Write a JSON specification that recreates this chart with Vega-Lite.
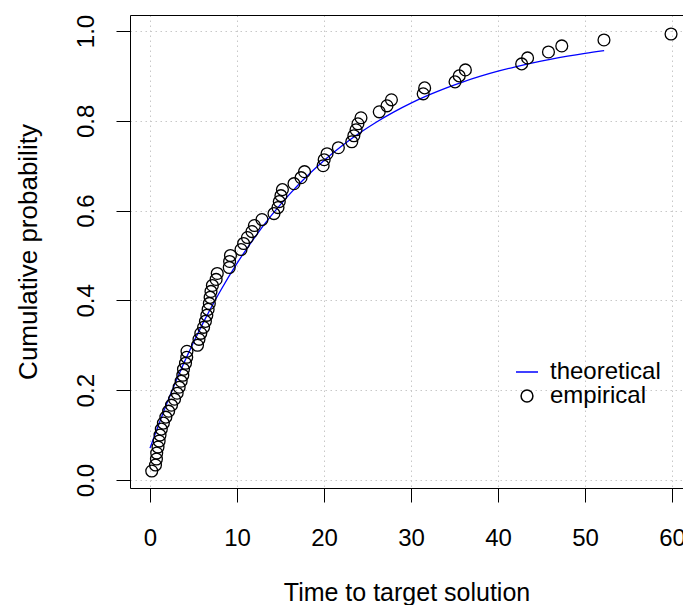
{
  "$schema": "https://vega.github.io/schema/vega-lite/v6.json",
  "width": 553,
  "height": 473,
  "autosize": "none",
  "padding": {"left": 130, "top": 15, "right": 0, "bottom": 117},
  "background": "white",
  "config": {"view": {"stroke": null}, "font": "Liberation Sans"},
  "resolve": {"axis": {"x": "independent"}},
  "layer": [
    {
      "data": {"values": [
        {"t": 0, "p": 0.0710}, {"t": 2, "p": 0.1736}, {"t": 4, "p": 0.2648}, {"t": 6, "p": 0.3460},
        {"t": 8, "p": 0.4182}, {"t": 10, "p": 0.4824}, {"t": 12, "p": 0.5395}, {"t": 14, "p": 0.5903},
        {"t": 16, "p": 0.6356}, {"t": 18, "p": 0.6758}, {"t": 20, "p": 0.7116}, {"t": 22, "p": 0.7434},
        {"t": 24, "p": 0.7717}, {"t": 26, "p": 0.7969}, {"t": 28, "p": 0.8193}, {"t": 30, "p": 0.8393},
        {"t": 32, "p": 0.8570}, {"t": 34, "p": 0.8728}, {"t": 36, "p": 0.8868}, {"t": 38, "p": 0.8993},
        {"t": 40, "p": 0.9104}, {"t": 42, "p": 0.9203}, {"t": 44, "p": 0.9291}, {"t": 46, "p": 0.9369},
        {"t": 48, "p": 0.9439}, {"t": 50, "p": 0.9501}, {"t": 52.2, "p": 0.9561}
      ]},
      "mark": {"type": "line", "color": "#0000FF", "strokeWidth": 1.3, "interpolate": "monotone", "clip": true},
      "encoding": {
        "x": {
          "field": "t", "type": "quantitative",
          "scale": {"domain": [-2.299, 61.264], "nice": false, "zero": false},
          "axis": {
            "orient": "bottom", "values": [0, 10, 20, 30, 40, 50, 60], "format": "d",
            "grid": true, "gridColor": "#c8c8c8", "gridDash": [1.5, 3.5], "gridWidth": 1,
            "domain": true, "domainColor": "#000000", "domainWidth": 1,
            "ticks": true, "tickColor": "#000000", "tickSize": 14, "tickWidth": 1,
            "labelFontSize": 24, "labelColor": "#000000", "labelFont": "Liberation Sans",
            "labelPadding": 24, "labelBaseline": "top", "labelFlush": false, "labelOverlap": false,
            "title": "Time to target solution", "titleFontSize": 25, "titleFontWeight": "normal",
            "titleColor": "#000000", "titleFont": "Liberation Sans", "titlePadding": 30
          }
        },
        "y": {
          "field": "p", "type": "quantitative",
          "scale": {"domain": [-0.0178, 1.0356], "nice": false, "zero": false},
          "axis": {
            "orient": "left", "values": [0, 0.2, 0.4, 0.6, 0.8, 1.0], "format": ".1f",
            "grid": true, "gridColor": "#c8c8c8", "gridDash": [1.5, 3.5], "gridWidth": 1,
            "domain": true, "domainColor": "#000000", "domainWidth": 1,
            "ticks": true, "tickColor": "#000000", "tickSize": 14, "tickWidth": 1,
            "labelFontSize": 24, "labelColor": "#000000", "labelFont": "Liberation Sans",
            "labelAngle": 270, "labelAlign": "center", "labelBaseline": "alphabetic",
            "labelPadding": 23, "labelFlush": false, "labelOverlap": false,
            "title": "Cumulative probability", "titleFontSize": 26, "titleFontWeight": "normal",
            "titleColor": "#000000", "titleFont": "Liberation Sans", "titlePadding": 33
          }
        }
      }
    },
    {
      "data": {"values": [
        {"t": 0.20, "p": 0.0200, "series": "empirical"}, {"t": 0.63, "p": 0.0333, "series": "empirical"},
        {"t": 0.74, "p": 0.0467, "series": "empirical"}, {"t": 0.77, "p": 0.0600, "series": "empirical"},
        {"t": 0.92, "p": 0.0733, "series": "empirical"}, {"t": 1.05, "p": 0.0867, "series": "empirical"},
        {"t": 1.15, "p": 0.1000, "series": "empirical"}, {"t": 1.30, "p": 0.1133, "series": "empirical"},
        {"t": 1.54, "p": 0.1267, "series": "empirical"}, {"t": 1.82, "p": 0.1400, "series": "empirical"},
        {"t": 2.14, "p": 0.1533, "series": "empirical"}, {"t": 2.47, "p": 0.1667, "series": "empirical"},
        {"t": 2.82, "p": 0.1800, "series": "empirical"}, {"t": 3.12, "p": 0.1933, "series": "empirical"},
        {"t": 3.35, "p": 0.2067, "series": "empirical"}, {"t": 3.58, "p": 0.2200, "series": "empirical"},
        {"t": 3.77, "p": 0.2333, "series": "empirical"}, {"t": 3.85, "p": 0.2467, "series": "empirical"},
        {"t": 4.08, "p": 0.2600, "series": "empirical"}, {"t": 4.22, "p": 0.2733, "series": "empirical"},
        {"t": 4.25, "p": 0.2867, "series": "empirical"}, {"t": 5.46, "p": 0.3000, "series": "empirical"},
        {"t": 5.63, "p": 0.3133, "series": "empirical"}, {"t": 5.84, "p": 0.3267, "series": "empirical"},
        {"t": 6.16, "p": 0.3400, "series": "empirical"}, {"t": 6.37, "p": 0.3533, "series": "empirical"},
        {"t": 6.53, "p": 0.3667, "series": "empirical"}, {"t": 6.68, "p": 0.3800, "series": "empirical"},
        {"t": 6.82, "p": 0.3933, "series": "empirical"}, {"t": 6.91, "p": 0.4067, "series": "empirical"},
        {"t": 7.01, "p": 0.4200, "series": "empirical"}, {"t": 7.17, "p": 0.4333, "series": "empirical"},
        {"t": 7.60, "p": 0.4467, "series": "empirical"}, {"t": 7.73, "p": 0.4600, "series": "empirical"},
        {"t": 9.11, "p": 0.4733, "series": "empirical"}, {"t": 9.15, "p": 0.4867, "series": "empirical"},
        {"t": 9.25, "p": 0.5000, "series": "empirical"}, {"t": 10.46, "p": 0.5133, "series": "empirical"},
        {"t": 10.76, "p": 0.5267, "series": "empirical"}, {"t": 11.20, "p": 0.5400, "series": "empirical"},
        {"t": 11.72, "p": 0.5533, "series": "empirical"}, {"t": 12.00, "p": 0.5667, "series": "empirical"},
        {"t": 12.87, "p": 0.5800, "series": "empirical"}, {"t": 14.25, "p": 0.5933, "series": "empirical"},
        {"t": 14.71, "p": 0.6067, "series": "empirical"}, {"t": 14.86, "p": 0.6200, "series": "empirical"},
        {"t": 15.05, "p": 0.6333, "series": "empirical"}, {"t": 15.22, "p": 0.6467, "series": "empirical"},
        {"t": 16.55, "p": 0.6600, "series": "empirical"}, {"t": 17.36, "p": 0.6733, "series": "empirical"},
        {"t": 17.76, "p": 0.6867, "series": "empirical"}, {"t": 19.90, "p": 0.7000, "series": "empirical"},
        {"t": 20.02, "p": 0.7133, "series": "empirical"}, {"t": 20.35, "p": 0.7267, "series": "empirical"},
        {"t": 21.65, "p": 0.7400, "series": "empirical"}, {"t": 23.19, "p": 0.7533, "series": "empirical"},
        {"t": 23.43, "p": 0.7667, "series": "empirical"}, {"t": 23.68, "p": 0.7800, "series": "empirical"},
        {"t": 23.90, "p": 0.7933, "series": "empirical"}, {"t": 24.25, "p": 0.8067, "series": "empirical"},
        {"t": 26.35, "p": 0.8200, "series": "empirical"}, {"t": 27.24, "p": 0.8333, "series": "empirical"},
        {"t": 27.75, "p": 0.8467, "series": "empirical"}, {"t": 31.40, "p": 0.8600, "series": "empirical"},
        {"t": 31.57, "p": 0.8733, "series": "empirical"}, {"t": 35.06, "p": 0.8867, "series": "empirical"},
        {"t": 35.54, "p": 0.9000, "series": "empirical"}, {"t": 36.25, "p": 0.9133, "series": "empirical"},
        {"t": 42.72, "p": 0.9267, "series": "empirical"}, {"t": 43.40, "p": 0.9400, "series": "empirical"},
        {"t": 45.80, "p": 0.9533, "series": "empirical"}, {"t": 47.33, "p": 0.9667, "series": "empirical"},
        {"t": 52.18, "p": 0.9800, "series": "empirical"}, {"t": 59.89, "p": 0.9933, "series": "empirical"}
      ]},
      "mark": {"type": "point", "filled": false, "strokeWidth": 1.3, "opacity": 1, "clip": true},
      "encoding": {
        "x": {
          "field": "t", "type": "quantitative",
          "axis": {"orient": "top", "domain": true, "domainColor": "#000000", "domainWidth": 1, "ticks": false, "labels": false, "grid": false, "title": null}
        },
        "y": {"field": "p", "type": "quantitative"},
        "color": {
          "field": "series", "type": "nominal",
          "scale": {"domain": ["theoretical", "empirical"], "range": ["#0000FF", "#000000"]},
          "legend": {
            "orient": "none", "legendX": 385, "legendY": 345, "title": null, "padding": 0,
            "labelFontSize": 24, "labelFont": "Liberation Sans", "labelColor": "#000000",
            "labelOffset": 11, "rowPadding": 0, "symbolStrokeWidth": 1.5
          }
        },
        "shape": {
          "field": "series", "type": "nominal",
          "scale": {"domain": ["theoretical", "empirical"], "range": ["stroke", "circle"]},
          "legend": {
            "orient": "none", "legendX": 385, "legendY": 345, "title": null, "padding": 0,
            "labelFontSize": 24, "labelFont": "Liberation Sans", "labelColor": "#000000",
            "labelOffset": 11, "rowPadding": 0, "symbolStrokeWidth": 1.5
          }
        },
        "size": {
          "field": "series", "type": "nominal",
          "scale": {"domain": ["theoretical", "empirical"], "range": [484, 140]},
          "legend": {
            "orient": "none", "legendX": 385, "legendY": 345, "title": null, "padding": 0,
            "labelFontSize": 24, "labelFont": "Liberation Sans", "labelColor": "#000000",
            "labelOffset": 11, "rowPadding": 0, "symbolStrokeWidth": 1.5
          }
        }
      }
    }
  ]
}
